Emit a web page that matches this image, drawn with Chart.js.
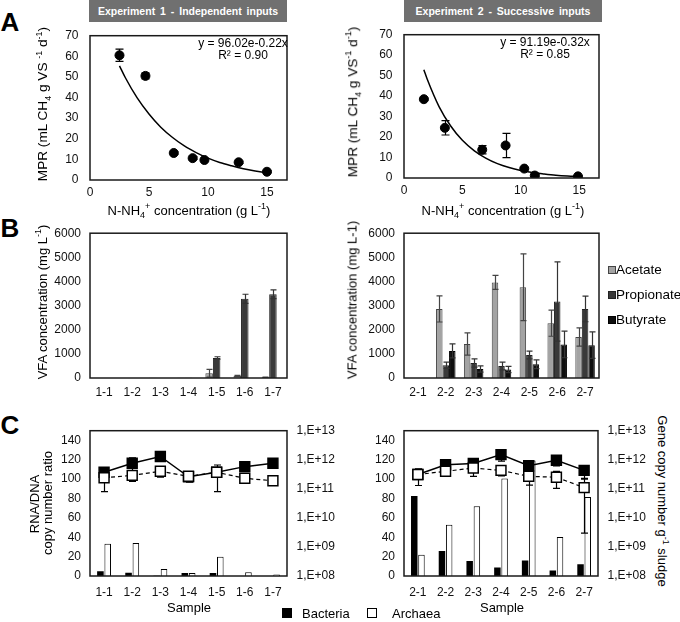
<!DOCTYPE html>
<html>
<head>
<meta charset="utf-8">
<script src="https://cdn.jsdelivr.net/npm/chart.js@4.4.1/dist/chart.umd.min.js"></script>
<style>
body { margin: 0; background: #fff; font-family: "Liberation Sans", Arial, sans-serif; color: #000; }
#wrap { position: relative; width: 680px; height: 622px; overflow: hidden; }
canvas { position: absolute; }
.t { position: absolute; white-space: nowrap; font-size: 13px; line-height: 1; transform: translate(-50%, -50%); }
.big { font-size: 13.6px; }
.up { transform: translate(-50%, -50%) rotate(-90deg); }
.down { transform: translate(-50%, -50%) rotate(90deg); }
.t sup, .t sub { font-size: 9px; line-height: 0; }
.letter { position: absolute; font-weight: bold; font-size: 26px; line-height: 1; transform: translate(-50%, -50%); }
.head { position: absolute; top: 0; height: 22px; background: #707070; color: #fff; font-weight: bold;
        font-size: 10.5px; word-spacing: 2px; line-height: 22px; text-align: center; }
.sq { position: absolute; box-sizing: border-box; }
.eq { position: absolute; font-size: 12px; line-height: 1; white-space: nowrap; transform: translate(-50%, -50%); }
</style>
</head>
<body>
<div id="wrap">
  <canvas id="mpr1"></canvas>
  <canvas id="mpr2"></canvas>
  <canvas id="vfa1"></canvas>
  <canvas id="vfa2"></canvas>
  <canvas id="gene1"></canvas>
  <canvas id="gene2"></canvas>

  <div class="letter" style="left:10px; top:22px;">A</div>
  <div class="letter" style="left:10px; top:228px;">B</div>
  <div class="letter" style="left:10px; top:425px;">C</div>

  <div class="head" style="left:89px; width:198px;">Experiment 1 - Independent inputs</div>
  <div class="head" style="left:404px; width:198px;">Experiment 2 - Successive inputs</div>

  <div class="t big up" style="left:43px; top:104px;">MPR (mL CH<sub>4</sub> g VS <sup>-1</sup> d<sup>-1</sup>)</div>
  <div class="t big up" style="left:353px; top:102px;">MPR (mL CH<sub>4</sub> g VS<sup>-1</sup> d<sup>-1</sup>)</div>
  <div class="eq" style="left:243px; top:43px;">y = 96.02e-0.22x</div>
  <div class="eq" style="left:243px; top:55px;">R² = 0.90</div>
  <div class="eq" style="left:545px; top:42px;">y = 91.19e-0.32x</div>
  <div class="eq" style="left:545px; top:54px;">R² = 0.85</div>
  <div class="t" style="left:189px; top:210px;">N-NH<sub>4</sub><sup>+</sup> concentration (g L<sup>-1</sup>)</div>
  <div class="t" style="left:503px; top:210px;">N-NH<sub>4</sub><sup>+</sup> concentration (g L<sup>-1</sup>)</div>

  <div class="t up" style="left:42px; top:302px;">VFA concentration (mg L<sup>-1</sup>)</div>
  <div class="t up" style="left:352px; top:300px;">VFA concentration (mg L-1)</div>

  <div class="sq" style="left:608px; top:266px; width:8px; height:8px; background:#a3a3a3; border:1px solid #444;"></div>
  <div class="t" style="left:616px; top:270px; transform:translate(0,-50%); font-size:13.5px;">Acetate</div>
  <div class="sq" style="left:608px; top:291px; width:8px; height:8px; background:#3a3a3a; border:1px solid #222;"></div>
  <div class="t" style="left:616px; top:295px; transform:translate(0,-50%); font-size:13.5px;">Propionate</div>
  <div class="sq" style="left:608px; top:316px; width:8px; height:8px; background:#0e0e0e; border:1px solid #000;"></div>
  <div class="t" style="left:616px; top:320px; transform:translate(0,-50%); font-size:13.5px;">Butyrate</div>

  <div class="t up" style="left:34px; top:504px;">RNA/DNA</div>
  <div class="t up" style="left:47px; top:503px;">copy number ratio</div>
  <div class="t down" style="left:662px; top:501px;">Gene copy number g<sup>-1</sup> sludge</div>
  <div class="t" style="left:189px; top:607px;">Sample</div>
  <div class="t" style="left:502px; top:607px;">Sample</div>

  <div class="sq" style="left:282px; top:608px; width:10px; height:10px; background:#000;"></div>
  <div class="t" style="left:302px; top:613px; transform:translate(0,-50%);">Bacteria</div>
  <div class="sq" style="left:367px; top:608px; width:10px; height:10px; background:#fff; border:1.5px solid #000;"></div>
  <div class="t" style="left:392px; top:613px; transform:translate(0,-50%);">Archaea</div>
</div>

<script>
'use strict';

// A - methane production rate vs ammonium
const mprXTicks = [0, 5, 10, 15];
const mprYTicks = [0, 10, 20, 30, 40, 50, 60, 70];

const nh4Exp1 = [2.5, 4.7, 7.1, 8.7, 9.7, 12.6, 15.0];
const mprExp1 = [60.5, 50.5, 13.1, 10.6, 9.7, 8.6, 4.0];
const mprErrExp1 = [3.0, 1.5, 0.6, 0.6, 0.6, 0.5, 0.4];
const trendXExp1 = [2.5, 3, 4, 5, 6, 7, 8, 9, 10, 11, 12, 13, 14, 15];
const trendYExp1 = [55.4, 49.6, 39.8, 32.0, 25.6, 20.6, 16.5, 13.3, 10.6, 8.5, 6.9, 5.5, 4.4, 3.5];

const nh4Exp2 = [1.7, 3.5, 6.7, 8.7, 10.3, 11.2, 14.9];
const mprExp2 = [38.5, 24.5, 13.8, 15.9, 4.6, 1.2, 0.8];
const mprErrExp2 = [0.5, 3.5, 2.0, 5.9, 0.5, 0.4, 0.3];
const trendXExp2 = [1.7, 2, 3, 4, 5, 6, 7, 8, 9, 10, 11, 12, 13, 14, 15];
const trendYExp2 = [52.9, 48.1, 34.9, 25.4, 18.4, 13.4, 9.7, 7.0, 5.1, 3.7, 2.7, 2.0, 1.4, 1.0, 0.75];

// B - VFA concentrations
const samples1 = ['1-1', '1-2', '1-3', '1-4', '1-5', '1-6', '1-7'];
const samples2 = ['2-1', '2-2', '2-3', '2-4', '2-5', '2-6', '2-7'];
const vfaTicks = [0, 1000, 2000, 3000, 4000, 5000, 6000];

const acetate1 = [0, 0, 15, 10, 200, 90, 30];
const acetateErr1 = [0, 0, 0, 0, 160, 20, 10];
const propionate1 = [0, 0, 0, 10, 830, 3280, 3470];
const propionateErr1 = [0, 0, 0, 0, 50, 190, 180];
const butyrate1 = [0, 0, 0, 0, 0, 0, 0];
const butyrateErr1 = [0, 0, 0, 0, 0, 0, 0];

const acetate2 = [0, 2860, 1410, 3960, 3760, 2270, 1700];
const acetateErr2 = [0, 540, 460, 290, 1380, 540, 380];
const propionate2 = [0, 530, 620, 500, 950, 3170, 2860];
const propionateErr2 = [0, 130, 170, 160, 160, 1640, 530];
const butyrate2 = [0, 1120, 370, 355, 570, 1390, 1360];
const butyrateErr2 = [0, 290, 130, 130, 180, 550, 550];

// C - RNA/DNA ratio (bars) and gene copies (lines)
const ratioTicks = [0, 20, 40, 60, 80, 100, 120, 140];
const copyTicks = [1e8, 1e9, 1e10, 1e11, 1e12, 1e13];
const copyLabels = ['1,E+08', '1,E+09', '1,E+10', '1,E+11', '1,E+12', '1,E+13'];

const ratioBact1 = [4.9, 3.3, 0.3, 3.0, 3.0, 0, 0];
const ratioArch1 = [33.4, 34.1, 7.2, 3.0, 20.0, 3.9, 1.6];
const copiesBact1 = [3.7e11, 7.6e11, 1.3e12, 2.6e11, 3.7e11, 5.8e11, 7.6e11];
const copiesBactErr1 = [1.5e11, 4.0e11, 4.0e11, 0.8e11, 0.3e11, 1.5e11, 0];
const copiesArch1 = [2.4e11, 2.9e11, 4.0e11, 2.7e11, 3.7e11, 2.3e11, 1.9e11];
const copiesArchErr1 = [1.6e11, 1.1e11, 1.5e11, 1.0e11, 2.9e11, 0.3e11, 0];

const ratioBact2 = [82.6, 25.9, 15.4, 8.9, 16.0, 5.6, 12.1];
const ratioArch2 = [22.0, 52.8, 72.1, 100.7, 119.3, 40.3, 81.6];
const copiesBact2 = [3.1e11, 6.7e11, 7.4e11, 1.5e12, 6.2e11, 9.6e11, 4.3e11];
const copiesBactErr2 = [0.3e11, 0.6e11, 1.5e11, 0.6e12, 1.5e11, 3.5e11, 2.0e11];
const copiesArch2 = [3.1e11, 4.0e11, 5.2e11, 4.3e11, 2.7e11, 2.5e11, 1.1e11];
const copiesArchErr2 = [1.8e11, 0.5e11, 2.5e11, 1.5e11, 1.35e11, 1.46e11, 1.07e11];

Chart.defaults.font.family = '"Liberation Sans", Arial, sans-serif';
Chart.defaults.font.size = 12;
Chart.defaults.color = '#111';
Chart.defaults.animation = false;
Chart.defaults.responsive = false;
Chart.defaults.plugins.legend.display = false;
Chart.defaults.plugins.tooltip.enabled = false;

// black frame round the plot area
const plotBox = {
  id: 'plotBox',
  afterDraw(chart) {
    const a = chart.chartArea, ctx = chart.ctx;
    ctx.save();
    ctx.strokeStyle = '#1a1a1a';
    ctx.lineWidth = 1.5;
    ctx.strokeRect(a.left, a.top, a.right - a.left, a.bottom - a.top);
    ctx.restore();
  }
};

function drawErrors(chart, index, meta) {
  const ds = chart.data.datasets[index];
  if (!ds.errors) return;
  const scale = chart.scales[meta.yAxisID];
  const ctx = chart.ctx;
  const cap = ds.capWidth || 6;
  ctx.save();
  ctx.strokeStyle = ds.errorColor || '#000';
  ctx.lineWidth = 1.2;
  meta.data.forEach((el, i) => {
    const e = ds.errors[i];
    if (!e) return;
    const d = ds.data[i];
    const v = typeof d === 'object' ? d.y : d;
    const hi = scale.getPixelForValue(v + e);
    const lo = scale.getPixelForValue(Math.max(v - e, scale.min));
    const x = Math.round(el.x) + 0.5;
    ctx.beginPath();
    ctx.moveTo(x, hi); ctx.lineTo(x, lo);
    ctx.moveTo(x - cap / 2, hi); ctx.lineTo(x + cap / 2, hi);
    if (v - e > scale.min) { ctx.moveTo(x - cap / 2, lo); ctx.lineTo(x + cap / 2, lo); }
    ctx.stroke();
  });
  ctx.restore();
}

// error bars go under point markers but over bars
const errorBars = {
  id: 'errorBars',
  beforeDatasetDraw(chart, args) { if (args.meta.type !== 'bar') drawErrors(chart, args.index, args.meta); },
  afterDatasetDraw(chart, args) { if (args.meta.type === 'bar') drawErrors(chart, args.index, args.meta); }
};

function setup(id, box, m) {
  const c = document.getElementById(id);
  c.width = m.l + box.w + m.r;
  c.height = m.t + box.h + m.b;
  c.style.left = (box.x - m.l) + 'px';
  c.style.top = (box.y - m.t) + 'px';
  return c;
}

function axis(extra) {
  return Object.assign({
    grid: { display: false, drawTicks: false },
    border: { display: false }
  }, extra);
}

function fixedTicks(list) {
  return s => { s.ticks = list.map(v => ({ value: v })); };
}

function mprChart(id, box, xs, ys, errs, tx, ty) {
  const m = { l: 45, r: 10, t: 10, b: 25 };
  const c = setup(id, box, m);
  new Chart(c, {
    type: 'scatter',
    data: {
      datasets: [
        {
          type: 'line',
          data: tx.map((x, i) => ({ x: x, y: ty[i] })),
          borderColor: '#000', borderWidth: 1.5, pointRadius: 0,
          cubicInterpolationMode: 'monotone'
        },
        {
          data: xs.map((x, i) => ({ x: x, y: ys[i] })),
          backgroundColor: '#000', borderColor: '#000', pointRadius: 4.5,
          errors: errs, errorColor: '#000', capWidth: 8
        }
      ]
    },
    options: {
      layout: { padding: { top: m.t, right: m.r, left: 0, bottom: 0 }, autoPadding: false },
      scales: {
        x: axis({
          type: 'linear', min: 0, max: 16.7,
          afterFit: s => { s.height = m.b; },
          afterBuildTicks: fixedTicks(mprXTicks),
          ticks: { padding: 5.5 }
        }),
        y: axis({
          type: 'linear', min: 0, max: 70,
          afterFit: s => { s.width = m.l; },
          afterBuildTicks: fixedTicks(mprYTicks),
          ticks: { padding: 11.5 }
        })
      }
    },
    plugins: [plotBox, errorBars]
  });
}

function vfaChart(id, box, cats, ac, acErr, pr, prErr, bu, buErr, catPct) {
  const m = { l: 45, r: 10, t: 10, b: 25 };
  const c = setup(id, box, m);
  new Chart(c, {
    type: 'bar',
    data: {
      labels: cats,
      datasets: [
        { label: 'Acetate', data: ac, errors: acErr, backgroundColor: '#a3a3a3', borderColor: '#444', borderWidth: 1, errorColor: '#444' },
        { label: 'Propionate', data: pr, errors: prErr, backgroundColor: '#3a3a3a', borderColor: '#222', borderWidth: 1, errorColor: '#333' },
        { label: 'Butyrate', data: bu, errors: buErr, backgroundColor: '#0e0e0e', borderColor: '#000', borderWidth: 1, errorColor: '#333' }
      ]
    },
    options: {
      datasets: { bar: { categoryPercentage: catPct, barPercentage: 1 } },
      layout: { padding: { top: m.t, right: m.r, left: 0, bottom: 0 }, autoPadding: false },
      scales: {
        x: axis({ afterFit: s => { s.height = m.b; }, ticks: { padding: 7 } }),
        y: axis({
          min: 0, max: 6000,
          afterFit: s => { s.width = m.l; },
          afterBuildTicks: fixedTicks(vfaTicks),
          ticks: { padding: 9, callback: v => String(v) }
        })
      }
    },
    plugins: [plotBox, errorBars]
  });
}

function geneChart(id, box, cats, rBact, rArch, cBact, cBactErr, cArch, cArchErr) {
  const m = { l: 45, r: 55, t: 10, b: 25 };
  const c = setup(id, box, m);
  new Chart(c, {
    type: 'bar',
    data: {
      labels: cats,
      datasets: [
        {
          type: 'line', yAxisID: 'y2', data: cArch, errors: cArchErr, capWidth: 7,
          borderColor: '#000', borderWidth: 1.2, borderDash: [4, 3],
          pointStyle: 'rect', pointRadius: 7, pointBackgroundColor: '#fff',
          pointBorderColor: '#000', pointBorderWidth: 1.5, order: 0
        },
        {
          type: 'line', yAxisID: 'y2', data: cBact, errors: cBactErr, capWidth: 7,
          borderColor: '#000', borderWidth: 1.5,
          pointStyle: 'rect', pointRadius: 7, pointBackgroundColor: '#000',
          pointBorderColor: '#000', pointBorderWidth: 1.5, order: 1
        },
        { label: 'Bacteria', data: rBact, backgroundColor: '#000', borderColor: '#000', borderWidth: 0, order: 2 },
        { label: 'Archaea', data: rArch, backgroundColor: '#fff', borderColor: '#000', borderWidth: 1, order: 3 }
      ]
    },
    options: {
      datasets: { bar: { categoryPercentage: 0.52, barPercentage: 0.9 } },
      layout: { padding: { top: m.t, right: 0, left: 0, bottom: 0 }, autoPadding: false },
      scales: {
        x: axis({ afterFit: s => { s.height = m.b; }, ticks: { padding: 9 } }),
        y: axis({
          min: 0, max: 150,
          afterFit: s => { s.width = m.l; },
          afterBuildTicks: fixedTicks(ratioTicks),
          ticks: { padding: 9 }
        }),
        y2: axis({
          type: 'logarithmic', position: 'right', min: 1e8, max: 1e13,
          afterFit: s => { s.width = m.r; },
          afterBuildTicks: fixedTicks(copyTicks),
          ticks: { padding: 9.5, callback: v => copyLabels[copyTicks.indexOf(v)] }
        })
      }
    },
    plugins: [plotBox, errorBars]
  });
}

mprChart('mpr1', { x: 90, y: 27, w: 197, h: 153 }, nh4Exp1, mprExp1, mprErrExp1, trendXExp1, trendYExp1);
mprChart('mpr2', { x: 404, y: 26, w: 195, h: 152 }, nh4Exp2, mprExp2, mprErrExp2, trendXExp2, trendYExp2);

vfaChart('vfa1', { x: 90, y: 227, w: 197, h: 151 }, samples1,
  acetate1, acetateErr1, propionate1, propionateErr1, butyrate1, butyrateErr1, 0.8);
vfaChart('vfa2', { x: 404, y: 227, w: 195, h: 151 }, samples2,
  acetate2, acetateErr2, propionate2, propionateErr2, butyrate2, butyrateErr2, 0.7);

geneChart('gene1', { x: 90, y: 424, w: 197, h: 152 }, samples1,
  ratioBact1, ratioArch1, copiesBact1, copiesBactErr1, copiesArch1, copiesArchErr1);
geneChart('gene2', { x: 404, y: 424, w: 194, h: 152 }, samples2,
  ratioBact2, ratioArch2, copiesBact2, copiesBactErr2, copiesArch2, copiesArchErr2);
</script>
</body>
</html>
